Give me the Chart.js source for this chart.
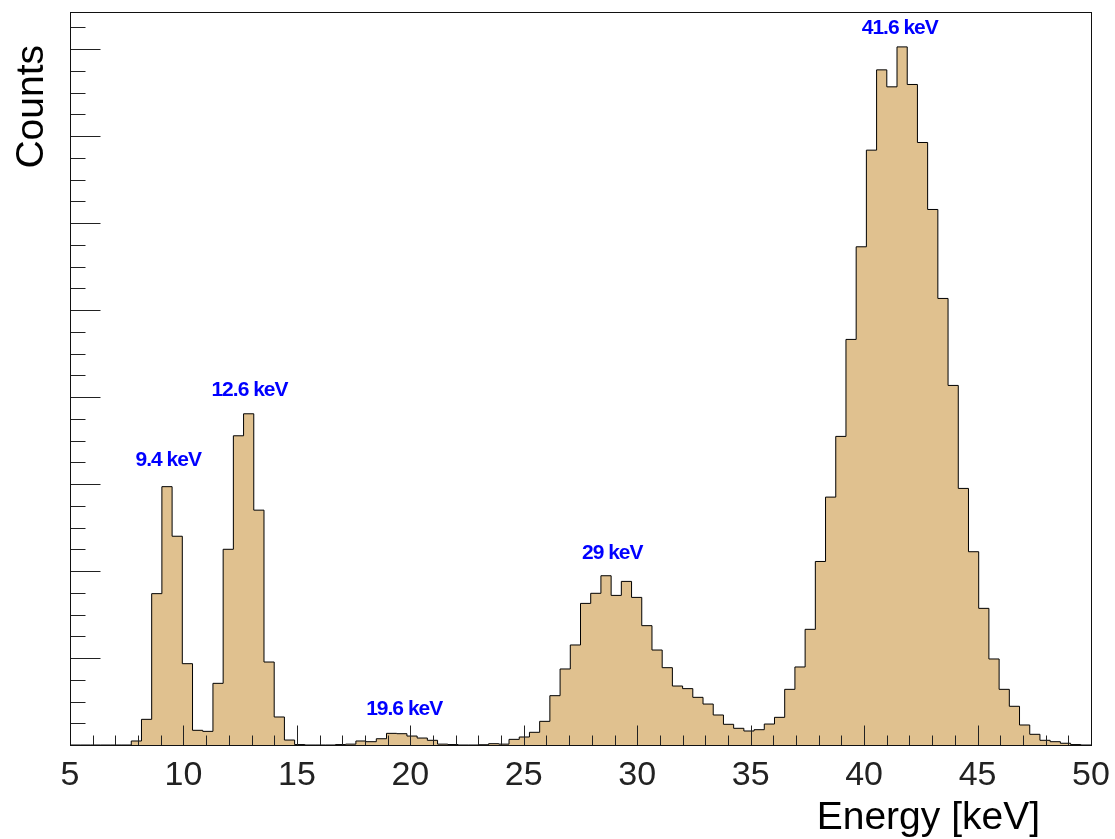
<!DOCTYPE html>
<html>
<head>
<meta charset="utf-8">
<title>Energy spectrum</title>
<script src="https://cdn.jsdelivr.net/npm/chart.js@4.4.0/dist/chart.umd.min.js"></script>
<style>
  html, body { margin: 0; padding: 0; background: #fff; }
  #wrap { width: 1115px; height: 839px; }
</style>
</head>
<body>
<div id="wrap"><canvas id="spectrum" width="1115" height="839"></canvas></div>
<script>
// histogram binning: 100 bins of 0.45 keV from 5 to 50 keV
const binLow = 5;
const binWidth = 0.45;

const counts = [
  0, 0, 0, 0, 0, 0, 4.6, 29.5, 174, 297,
  240, 93.5, 16.9, 15.7, 70.9, 225, 355.5, 380.8, 270, 95.4,
  32.2, 5.7, 0.5, 0, 0, 0, 0.5, 1, 4.6, 3.8,
  7.2, 13.4, 13, 10.3, 8, 5.4, 1, 0.5, 0, 0,
  0.3, 1.5, 1, 6.5, 9.2, 14.6, 27.2, 56.7, 87.4, 115,
  162.8, 174.4, 194.6, 172, 188.1, 169.7, 137.2, 109.2, 88.9, 67.8,
  64.8, 54.8, 47.1, 34.5, 23.8, 19.2, 16.1, 17.6, 24.1, 31.8,
  64, 89.7, 133, 211, 285, 354.8, 466.3, 572.8, 683.9, 776.2,
  756.7, 802.6, 759.4, 692.7, 615.7, 513.4, 413.4, 295, 222.2, 157.1,
  98.9, 64, 44.5, 23, 12.3, 5.4, 3.8, 2, 0.5, 0
];

const xTickValues = [5, 10, 15, 20, 25, 30, 35, 40, 45, 50];

// peak annotations (position in keV / counts)
const peakLabels = ["9.4 keV", "12.6 keV", "19.6 keV", "29 keV", "41.6 keV"];
const peakLabelX = [9.33, 12.91, 19.73, 28.9, 41.57];
const peakLabelY = [321, 401.5, 34.5, 213.8, 816.9];

const yMajor = 100;
const yMinor = 25;

// one point per lower bin edge, plus the upper edge of the last bin
const points = counts.map((c, i) => ({ x: binLow + i * binWidth, y: c }));
points.push({ x: binLow + counts.length * binWidth, y: counts[counts.length - 1] });

const FONT = "'Liberation Sans', Arial, Helvetica, sans-serif";

// frame, ROOT style tick marks, axis titles and peak labels
const rootFrame = {
  id: "rootFrame",
  afterDraw(chart) {
    const ctx = chart.ctx;
    const area = chart.chartArea;
    const xs = chart.scales.x;
    const ys = chart.scales.y;
    const L = Math.round(area.left) + 0.5;
    const R = Math.round(area.right) + 0.5;
    const T = Math.round(area.top) + 0.5;
    const B = Math.round(area.bottom) + 0.5;

    ctx.save();
    ctx.strokeStyle = "#222";
    ctx.lineWidth = 1;

    ctx.beginPath();
    // x ticks every 1 keV, long ones every 5
    for (let v = xs.min; v <= xs.max + 1e-9; v += 1) {
      const px = Math.round(xs.getPixelForValue(v)) + 0.5;
      const len = (v % 5 === 0) ? 20 : 10;
      ctx.moveTo(px, B);
      ctx.lineTo(px, B - len);
    }
    // y ticks
    for (let v = 0; v <= ys.max + 1e-9; v += yMinor) {
      const py = Math.round(ys.getPixelForValue(v)) + 0.5;
      const len = (v % yMajor === 0) ? 30 : 15;
      ctx.moveTo(L, py);
      ctx.lineTo(L + len, py);
    }
    ctx.stroke();

    ctx.strokeStyle = "#111";
    ctx.strokeRect(L, T, R - L, B - T);

    // axis titles
    ctx.fillStyle = "#000";
    ctx.font = "39px " + FONT;
    ctx.textAlign = "right";
    ctx.textBaseline = "alphabetic";
    ctx.fillText("Energy [keV]", 1040, 829);

    ctx.save();
    ctx.translate(43, 45);
    ctx.rotate(-Math.PI / 2);
    ctx.fillText("Counts", 0, 0);
    ctx.restore();

    // peak labels
    ctx.fillStyle = "#0000ff";
    ctx.font = "bold 21px " + FONT;
    ctx.textAlign = "center";
    ctx.letterSpacing = "-1px";
    peakLabels.forEach((txt, i) => {
      ctx.fillText(txt, xs.getPixelForValue(peakLabelX[i]), ys.getPixelForValue(peakLabelY[i]));
    });
    ctx.restore();
  }
};

new Chart(document.getElementById("spectrum").getContext("2d"), {
  type: "line",
  data: {
    datasets: [
      {
        data: points,
        stepped: "before",
        fill: "origin",
        backgroundColor: "#e0c18f",
        borderColor: "#000",
        borderWidth: 1,
        pointRadius: 0,
        tension: 0,
      },
    ],
  },
  options: {
    responsive: false,
    animation: false,
    devicePixelRatio: 1,
    layout: { padding: { top: 12, right: 24, left: 0, bottom: 0 } },
    plugins: {
      legend: { display: false },
      tooltip: { enabled: false },
    },
    scales: {
      x: {
        type: "linear",
        min: 5,
        max: 50,
        afterBuildTicks: (s) => { s.ticks = xTickValues.map((v) => ({ value: v })); },
        afterFit: (s) => { s.height = 94; s.paddingLeft = 0; s.paddingRight = 0; },
        grid: { display: false, drawTicks: false },
        border: { display: false },
        ticks: {
          color: "#222",
          font: { family: FONT, size: 34 },
          padding: 10,
          maxRotation: 0,
          autoSkip: false,
        },
      },
      y: {
        min: 0,
        max: Math.max(...counts) * 1.05,
        afterFit: (s) => { s.width = 70; },
        grid: { display: false, drawTicks: false },
        border: { display: false },
        ticks: { display: false },
      },
    },
  },
  plugins: [rootFrame],
});
</script>
</body>
</html>
